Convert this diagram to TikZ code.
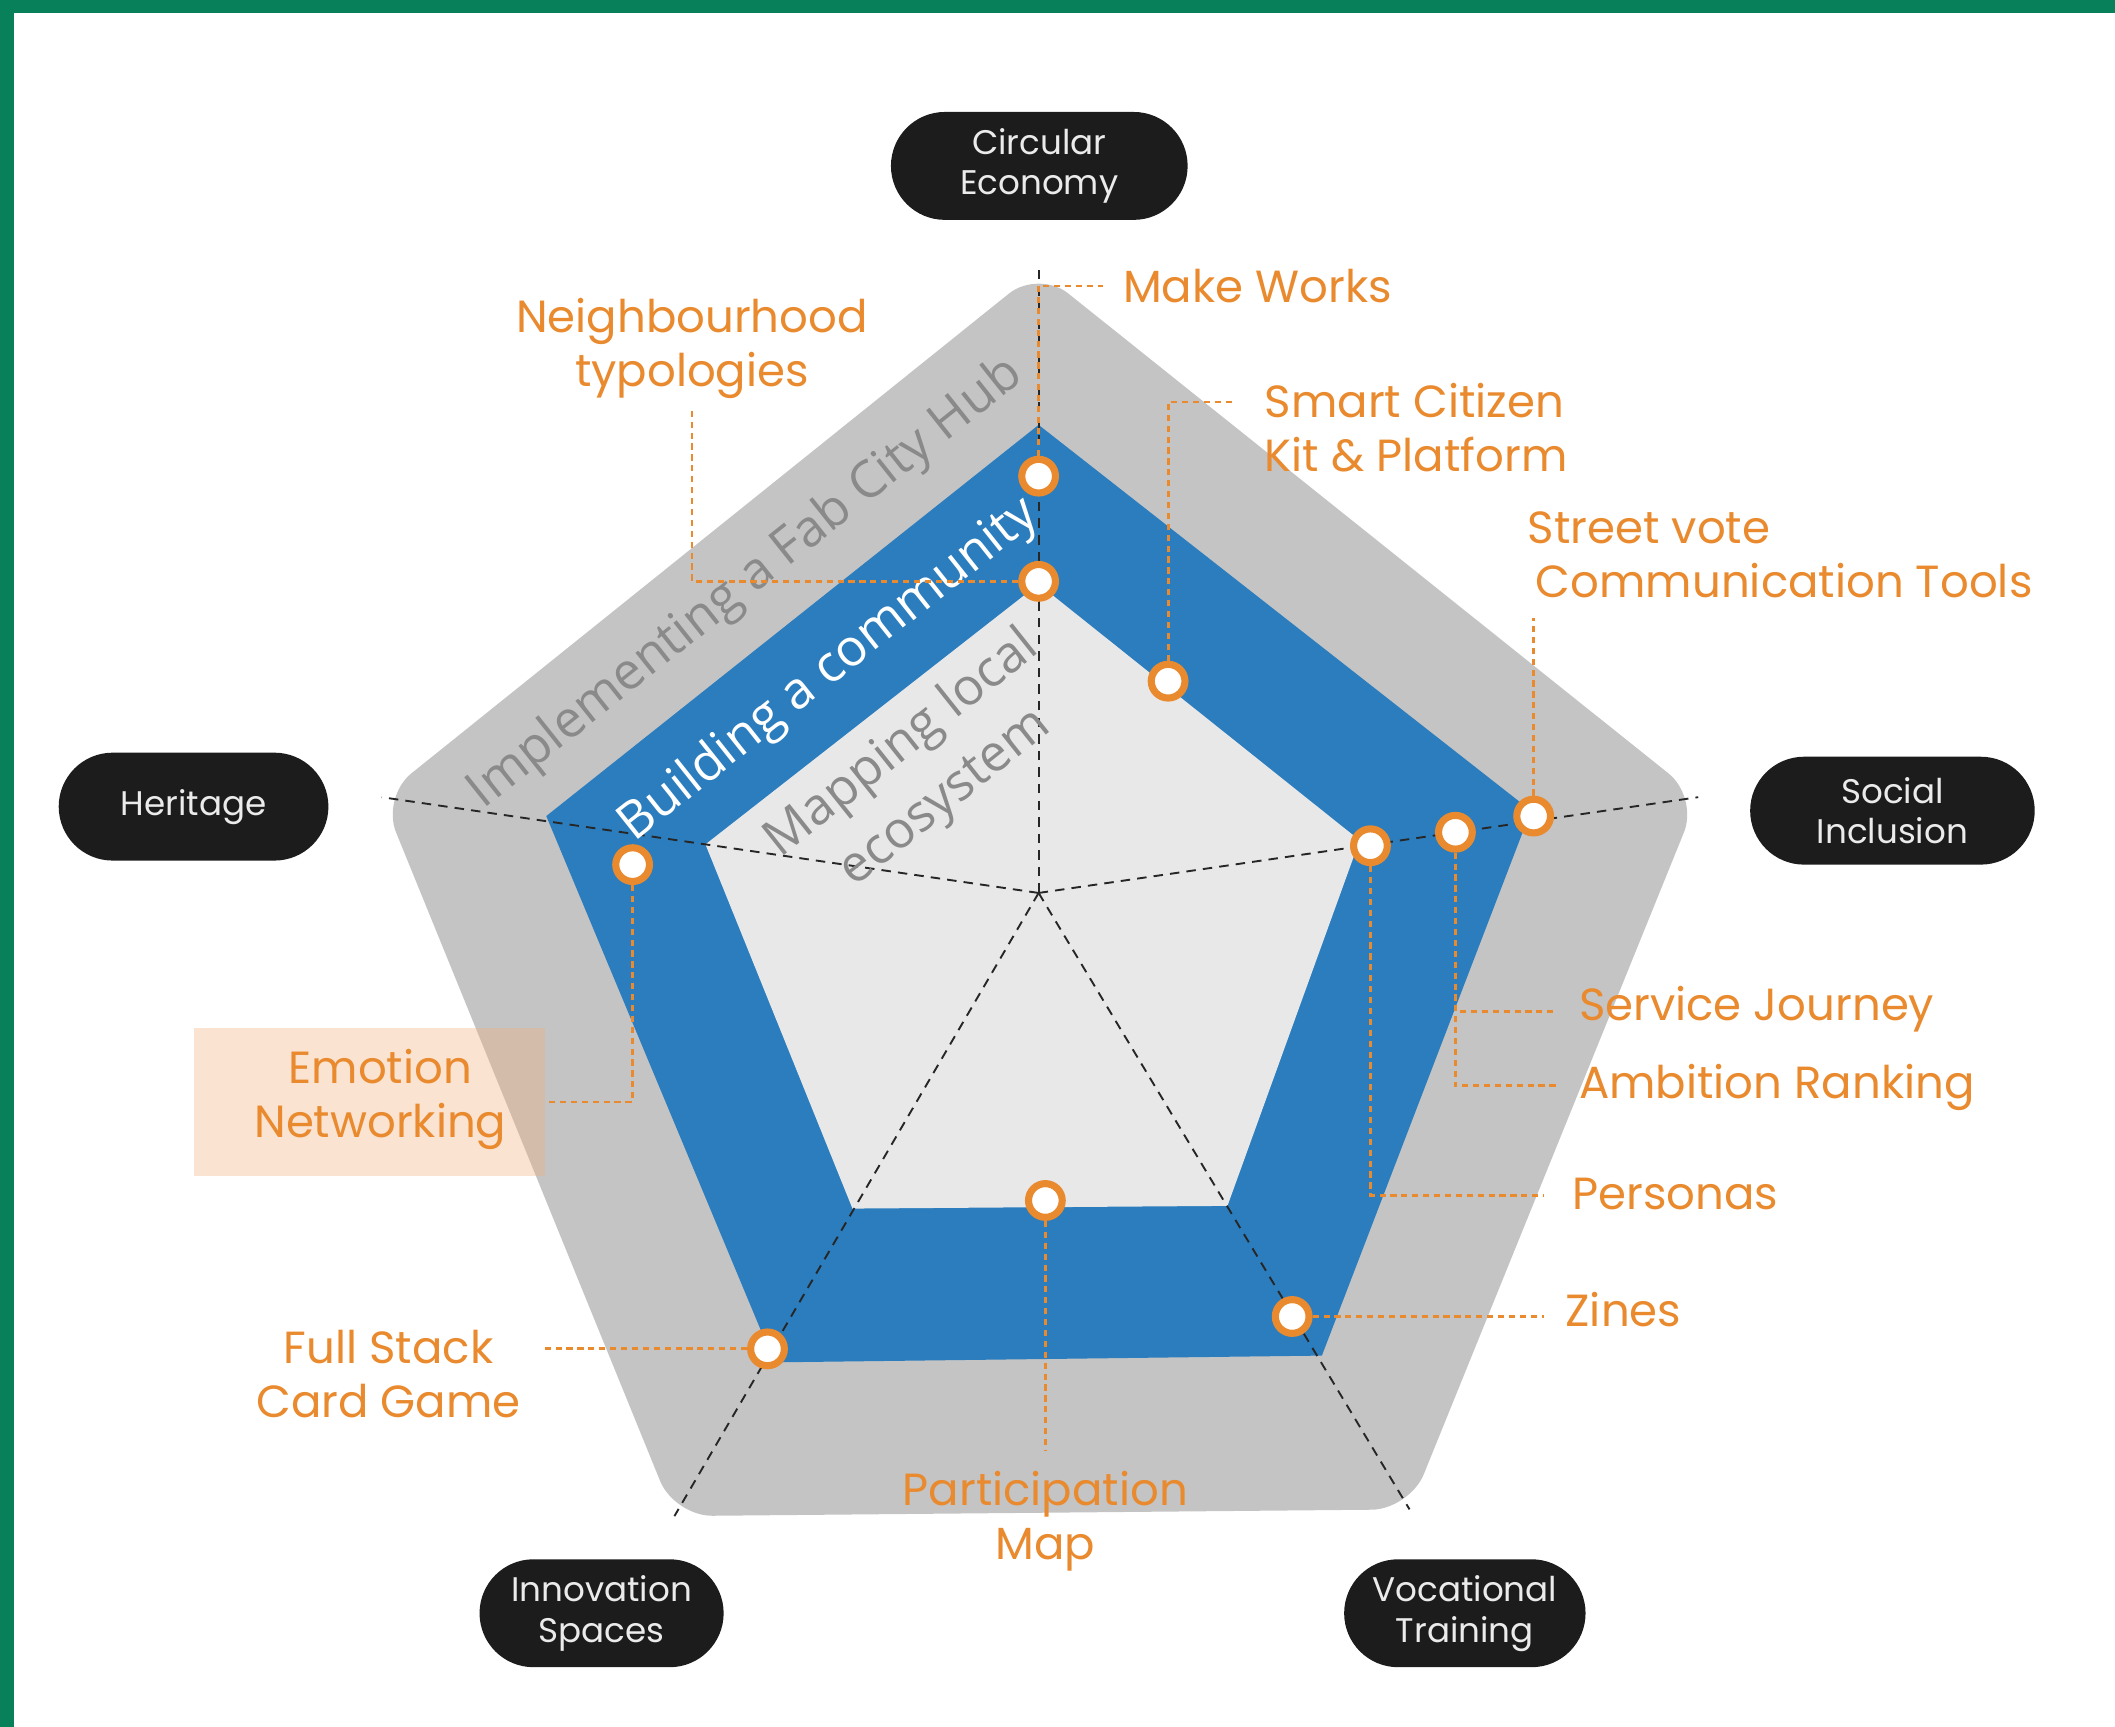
\documentclass[tikz,border=0pt]{standalone}
\usepackage{fontspec}
\setmainfont{Poppins}
\newfontfamily\bandfont{Open Sans}
\usetikzlibrary{shapes.misc}

\definecolor{fabgreen}{HTML}{08805A}
\definecolor{fcorange}{HTML}{E98A2F}
\definecolor{fcblue}{HTML}{2B7DBE}
\definecolor{outergray}{HTML}{C4C4C4}
\definecolor{innergray}{HTML}{E8E8E8}
\definecolor{bandtext}{HTML}{8A8A8A}
\definecolor{pillblack}{HTML}{1C1C1C}
\definecolor{peach}{HTML}{F3AF7A}

\begin{document}
\begin{tikzpicture}[x=0.1mm, y=-0.1mm,
    theme/.style={rounded rectangle, fill=pillblack, text=white!92!black, align=center,
        minimum height=8mm, inner sep=1pt, font=\fontsize{7.2}{8.6}\selectfont},
    tool/.style={circle, draw=fcorange, fill=white, line width=1.5pt, minimum size=2.5mm, inner sep=0pt},
    leader/.style={draw=fcorange, line width=0.6pt, dash pattern=on 1.3pt off 1pt},
    axis/.style={draw=black!85, line width=0.4pt, dash pattern=on 2pt off 1.5pt},
    tooltext/.style={text=fcorange, font=\fontsize{9.5}{11.4}\selectfont, inner sep=0pt},
    band/.style={font=\bandfont\fontsize{10.8}{14.5}\selectfont, rotate=38.5, align=center, inner sep=0pt}]
    \useasboundingbox (0,0) rectangle (1568,1280);

    % Draw the frame
    \fill[fabgreen] (0,0) rectangle (1568,9.6);
    \fill[fabgreen] (0,0) rectangle (10.4,1280);

    % Draw the three levels
    \coordinate (c) at (770,662);
    \coordinate (o1) at (770,200);
    \coordinate (o2) at (1259,591);
    \coordinate (o3) at (1045,1119);
    \coordinate (o4) at (500,1124);
    \coordinate (o5) at (283,591);
    \fill[outergray, rounded corners=8] (o1) -- (o2) -- (o3) -- (o4) -- (o5) -- cycle;
    \fill[fcblue] (770,315) -- (1135,601) -- (980,1005) -- (574,1010) -- (405,605) -- cycle;
    \fill[innergray] (770,433) -- (1008,623) -- (910,894) -- (632,896) -- (523,626) -- cycle;

    % Draw the axes
    \foreach \i in {1,...,5}
        \draw[axis] (c) -- (o\i);

    % Highlight box behind Emotion Networking
    \fill[peach, fill opacity=0.35] (144,762) rectangle (404,872);

    % Level names
    \node[band, text=bandtext] (hub) at (553,433) {Implementing a Fab City Hub};
    \node[band, text=white] (comm) at (615,497) {Building a community};
    \node[band, text=bandtext] (eco) at (685,572) {Mapping local\\ecosystem};

    % Draw nodes for the themes
    \node[theme, minimum width=22.7mm] (ce) at (770.5,123) {Circular\\Economy};
    \node[theme, minimum width=20.7mm] (he) at (143.5,598) {Heritage};
    \node[theme, minimum width=21.8mm] (si) at (1403,601) {Social\\Inclusion};
    \node[theme, minimum width=18.8mm] (is) at (446,1196) {Innovation\\Spaces};
    \node[theme, minimum width=18.6mm] (vt) at (1086,1196) {Vocational\\Training};

    % Draw nodes for the tools
    \node[tool] (mw) at (770,353) {};
    \node[tool] (nt) at (770,431) {};
    \node[tool] (sc) at (866,505) {};
    \node[tool] (sv) at (1137,605) {};
    \node[tool] (sj) at (1079,617) {};
    \node[tool] (pe) at (1016,627) {};
    \node[tool] (zi) at (958,976) {};
    \node[tool] (pm) at (775,890) {};
    \node[tool] (fs) at (569,1000) {};
    \node[tool] (en) at (469,641) {};

    % Tool labels
    \node[tooltext, anchor=west] (mwl) at (832,212) {Make Works};
    \node[tooltext, align=center] (ntl) at (513,258) {Neighbourhood\\typologies};
    \node[tooltext, anchor=west, align=left] (scl) at (937,317) {Smart Citizen\\Kit \& Platform};
    \node[tooltext, anchor=west, align=left] (svl) at (1132,411) {Street vote\\\hspace{0.6mm}Communication Tools};
    \node[tooltext, anchor=west] (sjl) at (1170,748) {Service Journey};
    \node[tooltext, anchor=west] (arl) at (1170,806) {Ambition Ranking};
    \node[tooltext, anchor=west] (pel) at (1165,885) {Personas};
    \node[tooltext, anchor=west] (zil) at (1160,971) {Zines};
    \node[tooltext, align=center] (pml) at (775,1128) {Participation\\Map};
    \node[tooltext, align=center] (fsl) at (288,1019) {Full Stack\\Card Game};
    \node[tooltext, align=center] (enl) at (282,815) {Emotion\\Networking};

    % Free ends of the leaders
    \coordinate (mwend) at (818,212);
    \coordinate (ntend) at (513,305);
    \coordinate (scend) at (913,298);
    \coordinate (svend) at (1137,458);
    \coordinate (sjend) at (1155,750);
    \coordinate (arend) at (1155,805);
    \coordinate (peend) at (1145,886);
    \coordinate (ziend) at (1145,976);
    \coordinate (pmend) at (775,1075);
    \coordinate (fsend) at (402,1000);
    \coordinate (enend) at (405,817);

    % Draw the leaders (dotted)
    \draw[leader] (mw) |- (mwend);
    \draw[leader] (nt) -| (ntend);
    \draw[leader] (sc) |- (scend);
    \draw[leader] (sv) -- (svend);
    \draw[leader] (sj) |- (sjend);
    \draw[leader] (sj) |- (arend);
    \draw[leader] (pe) |- (peend);
    \draw[leader] (zi) -- (ziend);
    \draw[leader] (pm) -- (pmend);
    \draw[leader] (fs) -- (fsend);
    \draw[leader] (en) |- (enend);
\end{tikzpicture}
\end{document}
